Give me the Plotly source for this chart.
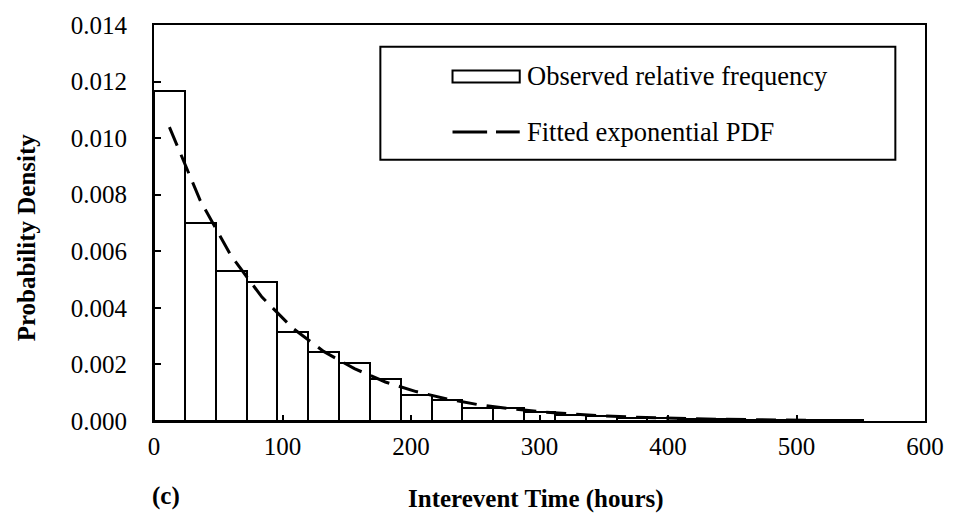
import plotly.graph_objects as go

# ---- data ----
bin_centers = [12, 36, 60, 84, 108, 132, 156, 180, 204, 228, 252, 276, 300,
               324, 348, 372, 396, 420, 444, 468, 492, 516, 540]
observed_freq = [0.01165, 0.00699, 0.00530, 0.00492, 0.00315, 0.00243, 0.00205,
                 0.00150, 0.00092, 0.00075, 0.00047, 0.00045, 0.00033, 0.00022,
                 0.00017, 0.00009, 0.00010, 0.00008, 0.00006, 0.00005, 0.00004,
                 0.00003, 0.00002]
fitted_pdf = [0.01039, 0.00779, 0.00584, 0.00438, 0.00328, 0.00246, 0.00185,
              0.00138, 0.00104, 0.00078, 0.00058, 0.00044, 0.00033, 0.00025,
              0.00018, 0.00014, 0.00010, 0.00008, 0.00006, 0.00004, 0.00003,
              0.00002, 0.00002]
bin_width = 24
x_ticks = [0, 100, 200, 300, 400, 500, 600]
y_ticks = [0.000, 0.002, 0.004, 0.006, 0.008, 0.010, 0.012, 0.014]

FONT = "Liberation Serif"

fig = go.Figure()
fig.add_trace(go.Bar(
    x=bin_centers, y=observed_freq, width=bin_width,
    marker=dict(color="white", line=dict(color="black", width=2)),
    name="Observed relative frequency", showlegend=False,
))
fig.add_trace(go.Scatter(
    x=bin_centers, y=fitted_pdf, mode="lines",
    line=dict(color="black", width=3, dash="20px,10px"),
    name="Fitted exponential PDF", showlegend=False,
))

W, H = 956, 519
L, R, T, B = 154, 22, 21, 98
pw, ph = W - L - R, H - T - B


def px(x):
    return (x - L) / pw


def py(y):
    return (H - B - y) / ph


fig.update_layout(
    width=W, height=H,
    margin=dict(l=L, r=R, t=T, b=B),
    paper_bgcolor="white", plot_bgcolor="white",
    font=dict(family=FONT, size=25, color="black"),
    bargap=0,
    xaxis=dict(range=[0, 600], tickvals=x_ticks, ticks="inside", ticklen=6,
               tickwidth=1.5, tickcolor="black", showline=True, linecolor="black",
               linewidth=2, mirror=True, showgrid=False, zeroline=False,
               ticklabelstandoff=2),
    yaxis=dict(range=[0, 0.014], tickvals=y_ticks, tickformat=".3f",
               ticks="inside", ticklen=7, tickwidth=1.5, tickcolor="black",
               showline=True, linecolor="black", linewidth=2, mirror=True,
               showgrid=False, zeroline=False, ticklabelstandoff=20),
)

annotations = [
    dict(text="<b>Probability Density</b>", x=px(25), y=py(235), textangle=-90,
         xanchor="center", yanchor="middle", font=dict(size=25)),
    dict(text="<b>Interevent Time (hours)</b>", x=px(540), y=py(500),
         xanchor="center", yanchor="middle", font=dict(size=25)),
    dict(text="<b>(c)</b>", x=px(166), y=py(497),
         xanchor="center", yanchor="middle", font=dict(size=25)),
    dict(text="Observed relative frequency", x=px(529), y=py(73),
         xanchor="left", yanchor="middle", font=dict(size=26.5)),
    dict(text="Fitted exponential PDF", x=px(529), y=py(129),
         xanchor="left", yanchor="middle", font=dict(size=26.5)),
]
for a in annotations:
    a.update(xref="paper", yref="paper", showarrow=False)
fig.update_layout(annotations=annotations)

shapes = [
    dict(type="rect", x0=px(383), x1=px(904), y0=py(157), y1=py(43),
         line=dict(color="black", width=2), fillcolor="rgba(0,0,0,0)"),
    dict(type="rect", x0=px(456), x1=px(524), y0=py(79), y1=py(67),
         line=dict(color="black", width=2), fillcolor="white"),
    dict(type="line", x0=px(456), x1=px(491), y0=py(129), y1=py(129),
         line=dict(color="black", width=3)),
    dict(type="line", x0=px(500), x1=px(524), y0=py(129), y1=py(129),
         line=dict(color="black", width=3)),
]
for s in shapes:
    s.update(xref="paper", yref="paper")
fig.update_layout(shapes=shapes)

fig.write_html("out.html")
